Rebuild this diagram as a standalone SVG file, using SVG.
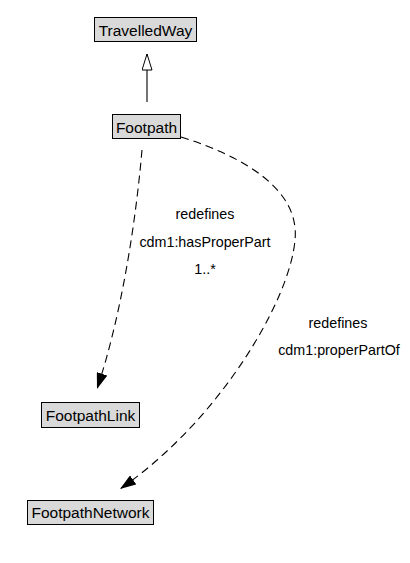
<svg xmlns="http://www.w3.org/2000/svg" width="410" height="563" viewBox="0 0 410 563">
<style>
.node rect{fill:#d9d9d9;stroke:#000;stroke-width:1}
.node text{font-family:"Liberation Sans",Arial,sans-serif;font-size:15.5px;font-weight:normal;fill:#000;text-anchor:middle}
.lbl{font-family:"Liberation Sans",Arial,sans-serif;font-size:14.3px;font-weight:normal;fill:#000;text-anchor:middle}
.dash{fill:none;stroke:#000;stroke-width:1.1;stroke-dasharray:8,5}
.solid{fill:none;stroke:#000;stroke-width:1.1}
</style>
<defs>
<marker id="arr" viewBox="0 0 16 11" refX="16" refY="5.5" markerWidth="16" markerHeight="11" markerUnits="userSpaceOnUse" orient="auto">
<path d="M0,0 L16,5.5 L0,11 Z" fill="#000"/>
</marker>
<marker id="gen" viewBox="0 0 17 11" refX="16.5" refY="5.5" markerWidth="17" markerHeight="11" markerUnits="userSpaceOnUse" orient="auto">
<path d="M0.5,0.5 L16.5,5.5 L0.5,10.5 Z" fill="#fff" stroke="#000" stroke-width="1"/>
</marker>
</defs>
<g id="connectors">
<path class="solid" d="M147,102 L147,54" marker-end="url(#gen)"/>
<path class="dash" d="M142,150 C135,230 120,320 97,389" marker-end="url(#arr)"/>
<path class="dash" d="M181,137 C245,157 300,190 295,240 C290,300 220,420 120,489" marker-end="url(#arr)"/>
<text class="lbl" x="205" y="219">redefines</text>
<text class="lbl" x="205" y="247">cdm1:hasProperPart</text>
<text class="lbl" x="205" y="274">1..*</text>
<text class="lbl" x="338" y="328">redefines</text>
<text class="lbl" x="339" y="355">cdm1:properPartOf</text>
</g>
<g id="TravelledWay" class="node">
<rect x="94.5" y="17.5" width="102" height="24"/>
<text x="145.5" y="35.5">TravelledWay</text>
</g>
<g id="Footpath" class="node">
<rect x="112.5" y="114.5" width="68" height="24"/>
<text x="146.5" y="132.5">Footpath</text>
</g>
<g id="FootpathLink" class="node">
<rect x="41.5" y="402.5" width="98" height="25"/>
<text x="90.5" y="420.5">FootpathLink</text>
</g>
<g id="FootpathNetwork" class="node">
<rect x="27.5" y="500.5" width="126" height="24"/>
<text x="90.5" y="517.5">FootpathNetwork</text>
</g>
</svg>
